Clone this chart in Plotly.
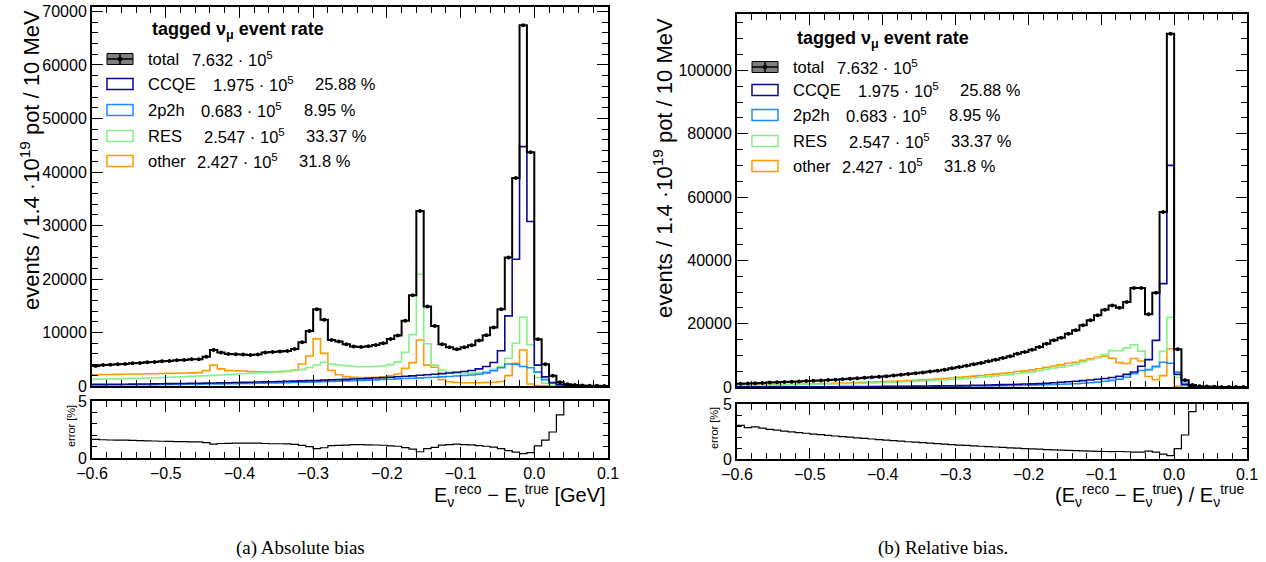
import numpy as np
import plotly.graph_objects as go

W, H = 1266, 562

# ---------------- data ----------------
bin_lo, bin_hi, n_bins = -0.6, 0.1, 70

abs_total = [3740, 3930, 3990, 4050, 4120, 4240, 4300, 4430, 4490, 4620,
             4680, 4800, 4860, 4990, 5000, 5490, 6740, 6240, 5990, 5930,
             5870, 5800, 5870, 6240, 6360, 6430, 6550, 6930, 8170, 10300,
             14350, 12360, 8610, 8300, 7800, 7360, 7300, 7420, 7680, 7990,
             8800, 9450, 12200, 16970, 32700, 14850, 11230, 7800, 7240, 6860,
             7240, 7610, 8490, 9490, 10920, 14350, 24020, 38880, 67450, 43680,
             8740, 4060, 1930, 700, 350, 180, 90, 50, 25, 10]
abs_ccqe = [300, 310, 320, 330, 340, 355, 370, 385, 400, 420,
            440, 460, 480, 500, 520, 545, 570, 595, 620, 650,
            680, 710, 740, 770, 800, 840, 880, 920, 960, 1000,
            1040, 1090, 1140, 1190, 1240, 1300, 1360, 1420, 1490, 1560,
            1640, 1720, 1810, 1900, 2000, 2100, 2200, 2310, 2430, 2560,
            2700, 2900, 3200, 3650, 4400, 6600, 13100, 23700, 44740, 30760,
            3900, 1700, 650, 250, 110, 50, 25, 12, 6, 3]
abs_2p2h = [190, 195, 200, 210, 220, 230, 240, 250, 260, 275,
            290, 305, 320, 335, 350, 365, 380, 400, 420, 440,
            460, 485, 510, 535, 560, 590, 620, 650, 690, 730,
            770, 810, 850, 900, 950, 1000, 1050, 1100, 1150, 1210,
            1270, 1330, 1400, 1460, 1520, 1580, 1640, 1700, 1780, 1860,
            1950, 2060, 2200, 2450, 2850, 3400, 4100, 4050, 3650, 3400,
            2600, 1200, 500, 220, 100, 45, 20, 10, 5, 2]
abs_res = [1250, 1280, 1310, 1340, 1380, 1420, 1460, 1500, 1540, 1590,
           1640, 1690, 1740, 1800, 1860, 1920, 1990, 2060, 2130, 2200,
           2280, 2360, 2440, 2520, 2600, 2690, 2780, 2900, 3100, 3450,
           3930, 4430, 4120, 3930, 3800, 3650, 3600, 3600, 3650, 3750,
           4000, 4500, 6300, 9600, 20900, 7900, 3900, 3000, 2600, 2400,
           2350, 2400, 2500, 2700, 3100, 3650, 5200, 8000, 12850, 7700,
           1600, 500, 150, 60, 25, 10, 5, 2, 1, 0]
abs_other = [2100, 2150, 2150, 2180, 2200, 2230, 2250, 2280, 2300, 2330,
             2360, 2390, 2420, 2450, 2500, 2900, 3900, 3200, 2870, 2850,
             2800, 2700, 2650, 2650, 2650, 2680, 2700, 3000, 4100, 5600,
             8800, 6100, 2900, 2100, 1750, 1620, 1600, 1600, 1620, 1650,
             1900, 2250, 3300, 4370, 8610, 3900, 3500, 1200, 800, 650,
             600, 600, 620, 650, 700, 850, 1930, 4240, 6740, 370,
             100, 30, 10, 0, 0, 0, 0, 0, 0, 0]
abs_err = [1.64, 1.60, 1.58, 1.57, 1.56, 1.54, 1.52, 1.50, 1.49, 1.47,
           1.46, 1.44, 1.43, 1.42, 1.41, 1.35, 1.22, 1.27, 1.29, 1.30,
           1.31, 1.31, 1.31, 1.27, 1.25, 1.25, 1.24, 1.20, 1.11, 0.99,
           0.83, 0.90, 1.08, 1.10, 1.13, 1.17, 1.17, 1.16, 1.14, 1.12,
           1.07, 1.03, 0.91, 0.77, 0.55, 0.82, 0.94, 1.13, 1.18, 1.21,
           1.18, 1.15, 1.09, 1.03, 0.96, 0.83, 0.65, 0.51, 0.39, 0.48,
           1.07, 1.57, 2.28, 3.78, 5.35, 7.45, 10.5, 14.1, 20.0, 31.6]

rel_total = [1050, 1100, 1200, 1300, 1400, 1480, 1570, 1660, 1760, 1860,
             1960, 2070, 2190, 2310, 2440, 2580, 2730, 2890, 3060, 3240,
             3430, 3640, 3860, 4090, 4330, 4590, 4860, 5140, 5440, 5900,
             6320, 6740, 7160, 7580, 8110, 8630, 9160, 9690, 10530, 11060,
             11790, 12640, 13690, 14740, 15580, 16850, 17900, 19480, 21060, 22640,
             24430, 25700, 25060, 26850, 31270, 31270, 22950, 29800, 55280, 111600,
             11900, 2100, 600, 250, 120, 60, 30, 20, 10, 5]
rel_ccqe = [35, 37, 39, 42, 45, 55, 58, 62, 66, 75,
            85, 90, 96, 102, 110, 130, 140, 150, 165, 180,
            200, 215, 230, 245, 270, 300, 320, 345, 375, 410,
            450, 490, 530, 575, 625, 680, 740, 800, 860, 930,
            1000, 1080, 1180, 1330, 1500, 1650, 1800, 2000, 2200, 2450,
            2700, 3000, 3400, 4000, 4740, 6530, 8630, 14740, 32640, 70000,
            4000, 700, 200, 80, 30, 15, 8, 4, 2, 1]
rel_2p2h = [20, 22, 24, 26, 28, 30, 33, 36, 40, 45,
            50, 55, 60, 66, 72, 78, 85, 92, 100, 105,
            110, 120, 130, 140, 150, 165, 180, 195, 210, 230,
            250, 275, 300, 325, 350, 380, 420, 460, 500, 550,
            600, 660, 720, 780, 850, 950, 1050, 1200, 1350, 1550,
            1800, 2100, 2500, 3100, 4200, 5200, 5500, 6500, 7800, 7500,
            4700, 1200, 300, 100, 50, 20, 10, 5, 3, 1]
rel_res = [450, 470, 520, 560, 605, 635, 680, 710, 755, 790,
           825, 875, 925, 970, 1030, 1080, 1135, 1200, 1265, 1345,
           1420, 1505, 1600, 1695, 1790, 1885, 1990, 2100, 2215, 2400,
           2570, 2735, 2900, 3060, 3285, 3490, 3700, 3910, 4270, 4480,
           4790, 5150, 5590, 5980, 6230, 6750, 7250, 7880, 8610, 9240,
           10240, 11500, 11460, 12350, 13330, 11340, 5500, 6260, 11240, 22000,
           3000, 170, 90, 60, 30, 15, 8, 5, 3, 1]
rel_other = [545, 570, 620, 670, 720, 760, 800, 850, 900, 950,
             1000, 1050, 1110, 1170, 1230, 1290, 1370, 1450, 1530, 1610,
             1700, 1800, 1900, 2010, 2120, 2240, 2370, 2500, 2640, 2860,
             3050, 3240, 3430, 3620, 3850, 4080, 4300, 4520, 4900, 5100,
             5400, 5750, 6200, 6650, 7000, 7500, 7800, 8400, 8900, 9400,
             9690, 9100, 7700, 7400, 9000, 8200, 3300, 2300, 3600, 12100,
             200, 30, 10, 10, 10, 5, 2, 1, 0, 0]
rel_err = [3.05, 2.85, 2.92, 2.80, 2.70, 2.62, 2.54, 2.47, 2.40, 2.34,
           2.27, 2.21, 2.15, 2.09, 2.03, 1.98, 1.92, 1.87, 1.82, 1.77,
           1.72, 1.67, 1.62, 1.57, 1.53, 1.48, 1.44, 1.40, 1.36, 1.31,
           1.27, 1.23, 1.19, 1.16, 1.12, 1.09, 1.05, 1.02, 0.98, 0.95,
           0.92, 0.89, 0.86, 0.83, 0.80, 0.78, 0.76, 0.74, 0.72, 0.70,
           0.68, 0.67, 0.68, 0.66, 0.63, 0.63, 0.72, 0.62, 0.45, 0.30,
           0.95, 2.18, 4.30, 6.3, 9.1, 12.9, 18.0, 22.0, 32.0, 45.0]

legend_names = ["total", "CCQE", "2p2h", "RES", "other"]
legend_counts = ["7.632", "1.975", "0.683", "2.547", "2.427"]
legend_pct = ["", "25.88 %", "8.95 %", "33.37 %", "31.8 %"]

colors = {"total": "#000000", "CCQE": "#0a0a8c", "2p2h": "#1e8cff",
          "RES": "#86f086", "other": "#ff9a00"}

edges = np.linspace(bin_lo, bin_hi, n_bins + 1)
centers = 0.5 * (edges[:-1] + edges[1:])

SANS = "Liberation Sans, Arial, Helvetica, sans-serif"
SERIF = "Liberation Serif, Times New Roman, serif"

fig = go.Figure()


def add_hist(vals, color, width, xa, ya):
    fig.add_trace(go.Scatter(
        x=edges, y=list(vals) + [vals[-1]], mode="lines",
        line=dict(color=color, width=width, shape="hv"),
        xaxis=xa, yaxis=ya, showlegend=False, hoverinfo="skip"))


def add_panel(total, ccqe, p2h, res, other, err, xa, ya, xr, yr):
    add_hist(other, colors["other"], 1.6, xa, ya)
    add_hist(res, colors["RES"], 1.6, xa, ya)
    add_hist(p2h, colors["2p2h"], 1.6, xa, ya)
    add_hist(ccqe, colors["CCQE"], 1.6, xa, ya)
    add_hist(total, colors["total"], 2.0, xa, ya)
    fig.add_trace(go.Scatter(
        x=centers, y=total, mode="markers",
        marker=dict(color="black", size=4),
        xaxis=xa, yaxis=ya, showlegend=False, hoverinfo="skip"))
    add_hist(err, "black", 1.2, xr, yr)


add_panel(abs_total, abs_ccqe, abs_2p2h, abs_res, abs_other, abs_err, "x", "y", "x2", "y2")
add_panel(rel_total, rel_ccqe, rel_2p2h, rel_res, rel_other, rel_err, "x3", "y3", "x4", "y4")

# ---------------- axes ----------------
tickfont = dict(family=SANS, size=16, color="black")


def xax(x0, x1, anchor, labels, ticklen, minorlen):
    return dict(domain=[x0 / W, x1 / W], anchor=anchor, range=[bin_lo, bin_hi],
                automargin=False,
                showline=True, linecolor="black", linewidth=2, mirror="allticks",
                ticks="inside", ticklen=ticklen, tickwidth=1, tickcolor="black",
                dtick=0.1, tick0=0, tickformat=".1f", showticklabels=labels,
                tickfont=tickfont, showgrid=False, zeroline=False,
                minor=dict(ticks="inside", ticklen=minorlen, dtick=0.02, tick0=0,
                           tickcolor="black", showgrid=False))


def yax(top, bot, anchor, rng, dtick, mdtick, ticklen, minorlen):
    return dict(domain=[1 - bot / H, 1 - top / H], anchor=anchor, range=rng,
                automargin=False,
                showline=True, linecolor="black", linewidth=2, mirror="allticks",
                ticks="inside", ticklen=ticklen, tickwidth=1, tickcolor="black",
                dtick=dtick, tick0=0, tickformat="d", tickfont=tickfont,
                showgrid=False, zeroline=False,
                minor=dict(ticks="inside", ticklen=minorlen, dtick=mdtick, tick0=0,
                           tickcolor="black", showgrid=False))


LX0, LX1 = 92, 608
RX0, RX1 = 737, 1247

layout = dict(
    width=W, height=H, margin=dict(l=0, r=0, t=0, b=0, pad=0, autoexpand=False),
    paper_bgcolor="white", plot_bgcolor="white", showlegend=False,
    xaxis=xax(LX0, LX1, "y", False, 11, 6),
    yaxis=yax(7, 386, "x", [0, 70840], 10000, 2000, 11, 6),
    xaxis2=xax(LX0, LX1, "y2", True, 11, 6),
    yaxis2=yax(401, 458, "x2", [0, 5], 5, 1, 8, 5),
    xaxis3=xax(RX0, RX1, "y3", False, 11, 6),
    yaxis3=yax(14, 387, "x3", [0, 117800], 20000, 5000, 11, 6),
    xaxis4=xax(RX0, RX1, "y4", True, 11, 6),
    yaxis4=yax(404, 459, "x4", [0, 5], 5, 1, 8, 5),
)
fig.update_layout(**layout)

# ---------------- text & legend ----------------
ann = []
shapes = []


def text(t, xp, yp, size, xanchor="left", yanchor="middle", angle=0, family=SANS):
    ann.append(dict(text=t, x=xp / W, y=1 - yp / H, xref="paper", yref="paper",
                    xanchor=xanchor, yanchor=yanchor, textangle=angle, showarrow=False,
                    font=dict(family=family, size=size, color="black")))


ytitle = "events / 1.4 ·10<sup>19</sup> pot / 10 MeV"
text(ytitle, 30, 8, 22, "center", "top", -90)
text(ytitle, 663, 16, 22, "center", "top", -90)
text("error [%]", 71, 403, 11, "center", "top", -90)
text("error [%]", 714, 405, 11, "center", "top", -90)

text("E<sub>ν</sub><sup>reco</sup> − E<sub>ν</sub><sup>true</sup> [GeV]", 608, 495, 20, "right")
text("(E<sub>ν</sub><sup>reco</sup> − E<sub>ν</sub><sup>true</sup>) / E<sub>ν</sub><sup>true</sup>",
     1247, 495, 20, "right")

text("(a) Absolute bias", 300, 548, 19, "center", family=SERIF)
text("(b) Relative bias.", 943, 548, 19, "center", family=SERIF)

LEG_FS = 16.5


def legend(px0, title_y, rows_y):
    text("<b>tagged ν<sub>μ</sub> event rate</b>", px0 + 58, title_y, 18)
    count_off = [98, 119, 107, 110, 103]
    pct_off = [0, 221, 210, 212, 205]
    for k, name in enumerate(legend_names):
        yy = rows_y[k]
        bx0, bx1 = px0 + 15, px0 + 41
        if name == "total":
            shapes.append(dict(type="rect", xref="paper", yref="paper",
                               x0=bx0 / W, x1=bx1 / W, y0=1 - (yy + 5.5) / H, y1=1 - (yy - 5.5) / H,
                               fillcolor="#7f7f7f", line=dict(color="black", width=1)))
            shapes.append(dict(type="line", xref="paper", yref="paper",
                               x0=bx0 / W, x1=bx1 / W, y0=1 - yy / H, y1=1 - yy / H,
                               line=dict(color="black", width=1.5)))
            shapes.append(dict(type="line", xref="paper", yref="paper",
                               x0=(bx0 + 13) / W, x1=(bx0 + 13) / W, y0=1 - (yy + 5.5) / H,
                               y1=1 - (yy - 5.5) / H, line=dict(color="black", width=1.5)))
            shapes.append(dict(type="circle", xref="paper", yref="paper",
                               x0=(bx0 + 11) / W, x1=(bx0 + 15) / W, y0=1 - (yy + 2) / H,
                               y1=1 - (yy - 2) / H, fillcolor="black", line=dict(color="black", width=1)))
        else:
            shapes.append(dict(type="rect", xref="paper", yref="paper",
                               x0=bx0 / W, x1=bx1 / W, y0=1 - (yy + 5.5) / H, y1=1 - (yy - 5.5) / H,
                               fillcolor="white", line=dict(color=colors[name], width=1.5)))
        text(name, px0 + 54, yy, LEG_FS)
        text(legend_counts[k] + " · 10<sup>5</sup>", px0 + count_off[k], yy, LEG_FS)
        if legend_pct[k]:
            text(legend_pct[k], px0 + pct_off[k], yy, LEG_FS)


legend(LX0, 31, [59, 84, 110, 136, 161])
legend(RX0, 40, [67, 90, 115, 141, 166])

fig.update_layout(annotations=ann, shapes=shapes)
fig.write_html("out.html", config={"displayModeBar": False},
               post_script="document.body.style.margin='0';document.body.style.overflow='hidden';")
